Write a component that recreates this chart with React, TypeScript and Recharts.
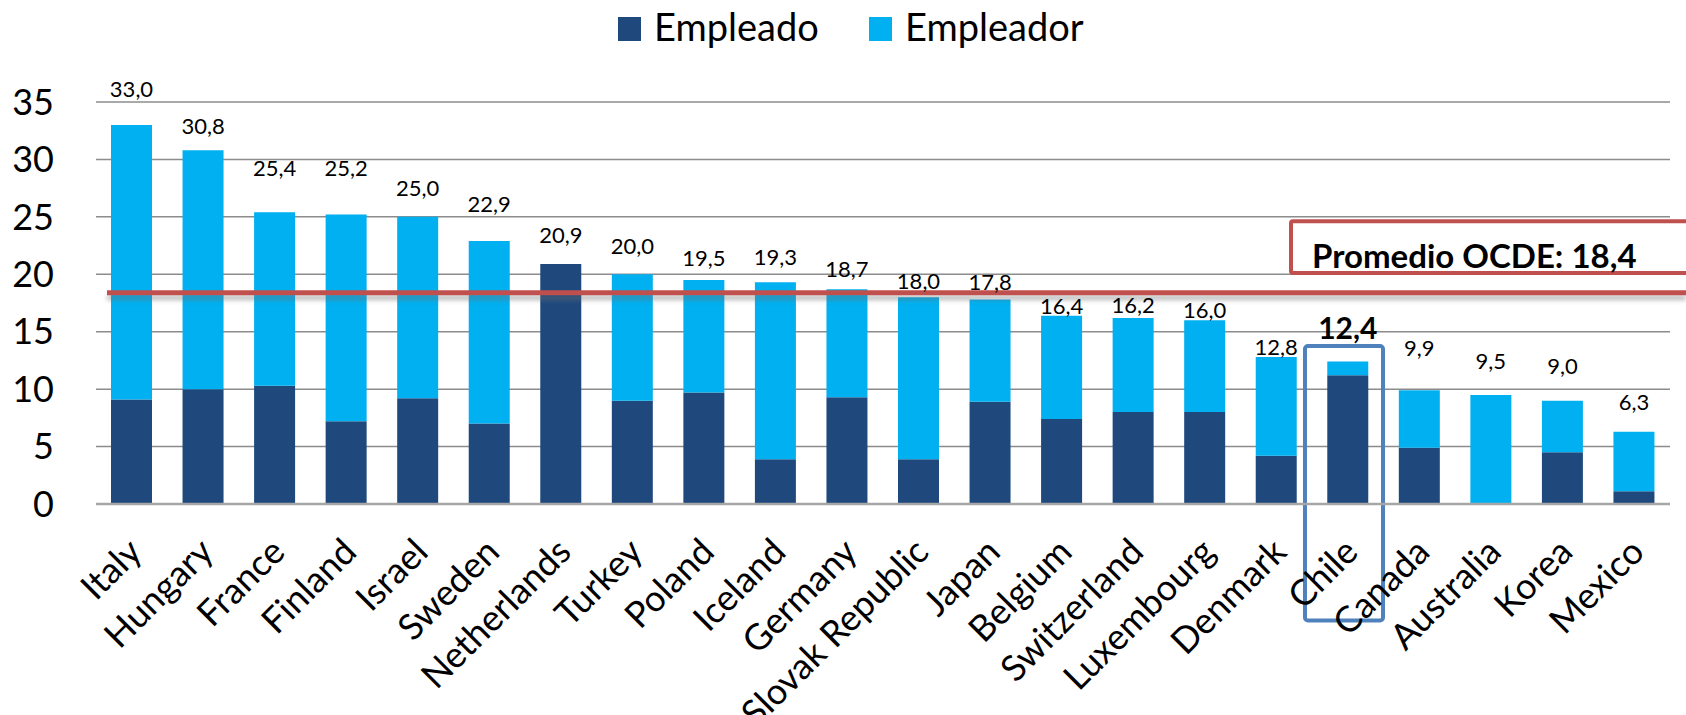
import React from 'react';
import {
  BarChart,
  Bar,
  XAxis,
  YAxis,
  CartesianGrid,
  ReferenceLine,
  ReferenceArea,
  LabelList,
  Legend,
} from 'recharts';

// ---------- data ----------
const countries = [
  'Italy', 'Hungary', 'France', 'Finland', 'Israel', 'Sweden', 'Netherlands',
  'Turkey', 'Poland', 'Iceland', 'Germany', 'Slovak Republic', 'Japan',
  'Belgium', 'Switzerland', 'Luxembourg', 'Denmark', 'Chile', 'Canada',
  'Australia', 'Korea', 'Mexico',
];
const empleado = [
  9.1, 10.0, 10.3, 7.2, 9.2, 7.0, 20.9, 9.0, 9.7, 3.9, 9.3, 3.9, 8.9, 7.4,
  8.0, 8.0, 4.2, 11.2, 4.9, 0, 4.5, 1.1,
];
const empleador = [
  23.9, 20.8, 15.1, 18.0, 15.8, 15.9, 0, 11.0, 9.8, 15.4, 9.4, 14.1, 8.9, 9.0,
  8.2, 8.0, 8.6, 1.2, 5.0, 9.5, 4.5, 5.2,
];
const totals = [
  33.0, 30.8, 25.4, 25.2, 25.0, 22.9, 20.9, 20.0, 19.5, 19.3, 18.7, 18.0, 17.8,
  16.4, 16.2, 16.0, 12.8, 12.4, 9.9, 9.5, 9.0, 6.3,
];
const seriesNames = ['Empleado', 'Empleador'];
const yTicks = [0, 5, 10, 15, 20, 25, 30, 35];
const oecdAverage = 18.4;
const averageLabel = 'Promedio OCDE: 18,4';
const highlighted = 'Chile';
const highlightRange = [-10.14, 13.76];

// style: distance (px) of each total label above its bar
const labelLift = [28, 16, 36, 39, 21, 29, 21, 20, 14, 17, 12, 8, 10, 2, 5, 2, 2, 23, 34, 26, 27, 22];

const DARK = '#1F497D';
const LIGHT = '#00B0F0';
const RED = '#C0504D';
const BLUE_BOX = '#4F81BD';
const FONT = 'Lato, "Open Sans", sans-serif';

const data = countries.map((c, i) => ({
  country: c,
  empleado: empleado[i],
  empleador: empleador[i],
  total: totals[i],
}));

const fmt = (v: number) => v.toFixed(1).replace('.', ',');

const LegendContent = () => (
  <svg width={1686} height={102} style={{ display: 'block' }}>
    <rect x={618} y={17} width={23} height={24} fill={DARK} />
    <text x={654} y={41} fontSize={38} fontFamily={FONT} fill="#000">
      {seriesNames[0]}
    </text>
    <rect x={869} y={17} width={23} height={24} fill={LIGHT} />
    <text x={905} y={41} fontSize={38} fontFamily={FONT} fill="#000">
      {seriesNames[1]}
    </text>
  </svg>
);

const XTick = (props: any) => {
  const { x, y, payload } = props;
  return (
    <g transform={`translate(${x + 12},${y + 48})`}>
      <text
        transform="rotate(-45)"
        textAnchor="end"
        fontSize={36}
        fontFamily={FONT}
        fill="#000"
      >
        {payload.value}
      </text>
    </g>
  );
};

// label drawn on top of the stack; the lower series only labels stacks whose upper part is empty
const makeTotalLabel = (onlyWhenTopEmpty: boolean) => (props: any) => {
  const vb = props.viewBox && props.viewBox.width !== undefined ? props.viewBox : props;
  const { x, y, width } = vb;
  const index = countries.indexOf(props.value);
  if (index < 0 || x === undefined) return null;
  if (onlyWhenTopEmpty && empleador[index] !== 0) return null;
  const hi = countries[index] === highlighted;
  return (
    <text
      key={`lbl-${index}`}
      x={x + width / 2}
      y={y - labelLift[index]}
      textAnchor="middle"
      fontSize={hi ? 30 : 22}
      fontWeight={hi ? 700 : 400}
      fontFamily={FONT}
      fill="#000"
    >
      {fmt(totals[index])}
    </text>
  );
};
const LowerLabel = makeTotalLabel(true);
const UpperLabel = makeTotalLabel(false);

const AverageLine = (p: any) => {
  const { x1, x2, y1 } = p;
  const left = x1 + 11;
  const right = x2 + 16;
  return (
    <g>
      <defs>
        <filter
          id="avgShadow"
          filterUnits="userSpaceOnUse"
          x={left - 20}
          y={y1 - 20}
          width={right - left + 40}
          height={40}
        >
          <feGaussianBlur stdDeviation="2" />
        </filter>
      </defs>
      <line
        x1={left}
        x2={right}
        y1={y1 + 5}
        y2={y1 + 5}
        stroke="#6f6f6f"
        strokeOpacity={0.45}
        strokeWidth={5}
        filter="url(#avgShadow)"
      />
      <line x1={left} x2={right} y1={y1} y2={y1} stroke={RED} strokeWidth={5} />
      <rect
        x={x2 - 379}
        y={y1 - 71.4}
        width={440}
        height={51.7}
        fill="#fff"
        stroke={RED}
        strokeWidth={4}
        rx={2}
      />
      <text
        x={x2 - 358}
        y={y1 - 25}
        fontSize={33}
        fontWeight={700}
        fontFamily={FONT}
        fill="#000"
      >
        {averageLabel}
      </text>
    </g>
  );
};

const HighlightBox = (p: any) => {
  const { x, y, width, height } = p;
  return (
    <rect
      x={x - 7.3}
      y={y}
      width={width + 6.5}
      height={height}
      fill="none"
      stroke={BLUE_BOX}
      strokeWidth={4}
      rx={3}
    />
  );
};

export default function App() {
  return (
    <div
      style={{
        position: 'absolute',
        left: 0,
        top: 0,
        width: 1686,
        height: 715,
        background: '#fff',
        fontFamily: FONT,
        overflow: 'hidden',
      }}
    >
      <BarChart
        width={1686}
        height={715}
        data={data}
        margin={{ top: 0, right: 16, left: 0, bottom: 0 }}
        barSize={41}
      >
        <Legend
          verticalAlign="top"
          align="left"
          content={<LegendContent />}
          wrapperStyle={{ top: 0, left: 0, width: 1686, height: 102 }}
        />
        <CartesianGrid vertical={false} stroke="#8c8c8c" strokeWidth={1.5} />
        <XAxis
          dataKey="country"
          interval={0}
          height={211}
          tickLine={false}
          tickSize={0}
          axisLine={{ stroke: '#a6a6a6', strokeWidth: 2.5 }}
          tick={<XTick />}
        />
        <YAxis
          width={96}
          domain={[0, 35]}
          ticks={yTicks}
          axisLine={false}
          tickLine={false}
          tickSize={0}
          tickMargin={42}
          tick={{ fontSize: 36, fill: '#000', fontFamily: FONT }}
        />
        <Bar
          dataKey="empleado"
          name={seriesNames[0]}
          stackId="a"
          fill={DARK}
          isAnimationActive={false}
        >
          <LabelList dataKey="country" content={<LowerLabel />} />
        </Bar>
        <Bar
          dataKey="empleador"
          name={seriesNames[1]}
          stackId="a"
          fill={LIGHT}
          isAnimationActive={false}
        >
          <LabelList dataKey="country" content={<UpperLabel />} />
        </Bar>
        <ReferenceLine y={oecdAverage} shape={<AverageLine />} ifOverflow="visible" />
        <ReferenceArea
          x1={highlighted}
          x2={highlighted}
          y1={highlightRange[0]}
          y2={highlightRange[1]}
          ifOverflow="visible"
          shape={<HighlightBox />}
        />
      </BarChart>
    </div>
  );
}
